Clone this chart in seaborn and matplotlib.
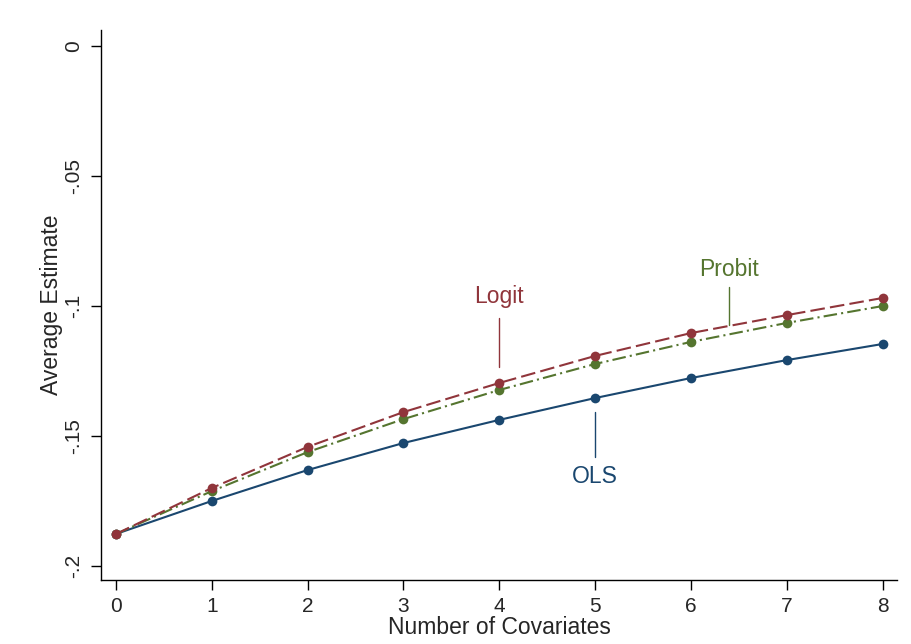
import matplotlib
matplotlib.use("Agg")
import matplotlib.pyplot as plt
import seaborn as sns
import pandas as pd
import numpy as np

covariates = [0, 1, 2, 3, 4, 5, 6, 7, 8]
ols = [-0.1877, -0.1750, -0.1631, -0.1527, -0.1438, -0.1354, -0.1277, -0.1208, -0.1146]
logit = [-0.1877, -0.1700, -0.1542, -0.1408, -0.1296, -0.1192, -0.1104, -0.1035, -0.0969]
probit = [-0.1877, -0.1712, -0.1562, -0.1435, -0.1323, -0.1223, -0.1138, -0.1065, -0.1000]
ytick_vals = [0, -0.05, -0.1, -0.15, -0.2]
ytick_labels = ["0", "-.05", "-.1", "-.15", "-.2"]

df = pd.DataFrame({
    "x": covariates * 3,
    "y": ols + logit + probit,
    "model": ["OLS"] * 9 + ["Logit"] * 9 + ["Probit"] * 9,
})

sns.set_style("white")
plt.rcParams["font.family"] = ["Liberation Sans", "DejaVu Sans"]

colors = {"OLS": "#1a476f", "Logit": "#90353b", "Probit": "#55752f"}
dashes = {"OLS": "", "Logit": (7, 2.5), "Probit": (6.5, 2, 1, 2)}

fig = plt.figure(figsize=(9.11, 6.44), dpi=100)
ax = fig.add_axes([0.1109, 0.0994, 0.8737, 0.854])

sns.lineplot(data=df, x="x", y="y", hue="model", style="model",
             hue_order=["OLS", "Probit", "Logit"],
             palette=colors, dashes=dashes, markers={"OLS": "o", "Logit": "o", "Probit": "o"},
             markersize=7, markeredgewidth=0, linewidth=1.5, legend=False, ax=ax)

ax.set_xlim(-0.156, 8.15)
ax.set_ylim(-0.2054, 0.0062)
ax.set_xticks(covariates)
ax.set_xticklabels([str(c) for c in covariates], fontsize=15)
ax.set_yticks(ytick_vals)
ax.set_yticklabels(ytick_labels, fontsize=15, rotation=90, va="center")
ax.tick_params(axis="both", direction="out", length=7, width=1, color="black", left=True, bottom=True)
ax.tick_params(axis="x", pad=5)
ax.tick_params(axis="y", pad=6)
for s in ["top", "right"]:
    ax.spines[s].set_visible(False)
for s in ["left", "bottom"]:
    ax.spines[s].set_color("black")
    ax.spines[s].set_linewidth(1)

ax.set_xlabel("Number of Covariates", fontsize=16.5, labelpad=0)
ax.set_ylabel("Average Estimate", fontsize=16.5, labelpad=1)

# labels with pointer lines
ax.text(4, -0.0965, "Logit", color=colors["Logit"], fontsize=16.5, ha="center", va="center")
ax.plot([4, 4], [-0.1046, -0.1235], color=colors["Logit"], lw=1)
ax.text(6.4, -0.0858, "Probit", color=colors["Probit"], fontsize=16.5, ha="center", va="center")
ax.plot([6.4, 6.4], [-0.0927, -0.1073], color=colors["Probit"], lw=1)
ax.text(5, -0.1654, "OLS", color=colors["OLS"], fontsize=16.5, ha="center", va="center")
ax.plot([5, 5], [-0.1408, -0.1581], color=colors["OLS"], lw=1)

fig.savefig("out.png", dpi=100, facecolor="white")
